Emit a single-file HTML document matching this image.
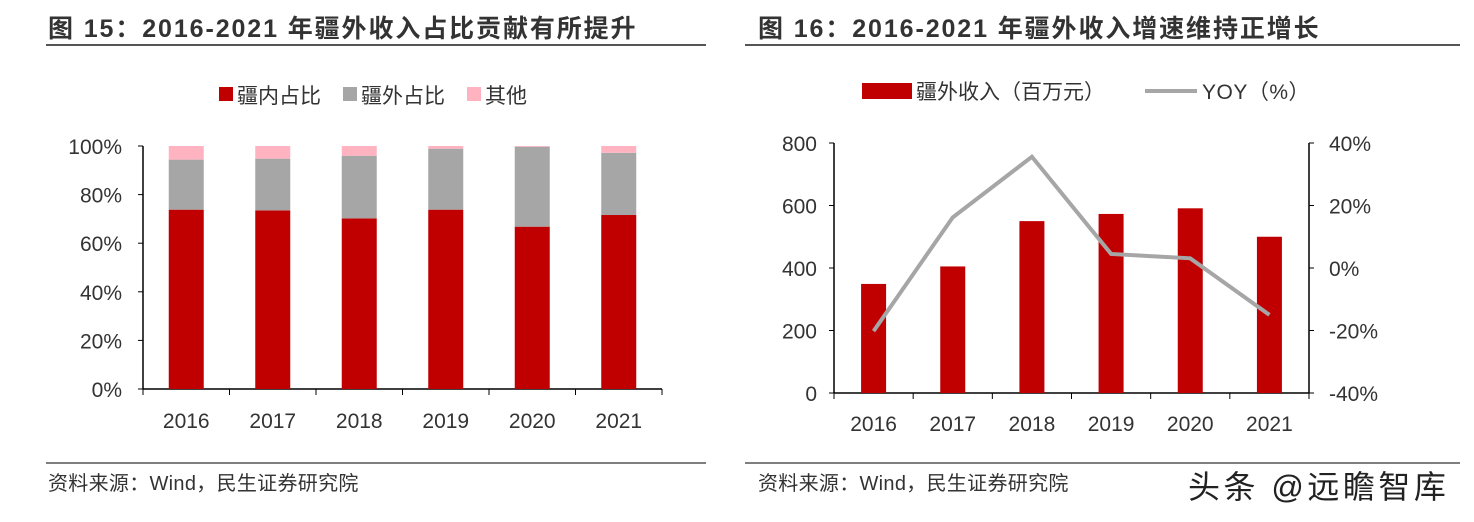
<!DOCTYPE html>
<html><head><meta charset="utf-8"><style>
body{margin:0;width:1474px;height:517px;background:#fff;overflow:hidden;font-family:"Liberation Sans","Noto Sans CJK SC",sans-serif;}
svg text{font-family:"Liberation Sans","Noto Sans CJK SC",sans-serif;}
</style></head><body>
<svg width="1474" height="517" id="svg">
<text x="48" y="37" font-size="25" font-weight="bold" fill="#333" letter-spacing="1.9">图 15：2016-2021 年疆外收入占比贡献有所提升</text>
<line x1="46" y1="45" x2="706" y2="45" stroke="#555" stroke-width="2"/>
<text x="758" y="37" font-size="25" font-weight="bold" fill="#333" letter-spacing="1.9">图 16：2016-2021 年疆外收入增速维持正增长</text>
<line x1="745" y1="45" x2="1460" y2="45" stroke="#555" stroke-width="2"/>
<line x1="46" y1="463" x2="706" y2="463" stroke="#555" stroke-width="1.5"/>
<line x1="745" y1="463" x2="1460" y2="463" stroke="#555" stroke-width="1.5"/>
<text x="48" y="490" font-size="20" fill="#333" letter-spacing="0.3">资料来源：Wind，民生证券研究院</text>
<text x="758" y="490" font-size="20" fill="#333" letter-spacing="0.3">资料来源：Wind，民生证券研究院</text>
<text x="1188" y="498" font-size="32" fill="#222" letter-spacing="3.5">头条 @远瞻智库</text>
<!-- left legend -->
<rect x="219" y="87" width="14" height="14" fill="#c00000"/>
<text x="237" y="103" font-size="21" fill="#333">疆内占比</text>
<rect x="343" y="87" width="14" height="14" fill="#a6a6a6"/>
<text x="361" y="103" font-size="21" fill="#333">疆外占比</text>
<rect x="467" y="87" width="14" height="14" fill="#ffb3c1"/>
<text x="485" y="103" font-size="21" fill="#333">其他</text>
<!-- right legend -->
<rect x="862" y="83" width="50" height="16" fill="#c00000"/>
<text x="916" y="99" font-size="21" fill="#333">疆外收入（百万元）</text>
<line x1="1145" y1="91" x2="1197" y2="91" stroke="#a6a6a6" stroke-width="4"/>
<text x="1202" y="99" font-size="21" fill="#333" letter-spacing="0.5">YOY（%）</text>
<g id="left"></g><g id="right"></g>
</svg>
<script>
const years=["2016","2017","2018","2019","2020","2021"];
const domestic=[73.8,73.5,70.2,73.8,66.8,71.6];
const outside=[20.6,21.3,25.8,25.1,32.9,25.6];
const other=[5.6,5.2,4.0,1.1,0.3,2.8];
const leftTicks=["0%","20%","40%","60%","80%","100%"];
const revenue=[349,405,550,573,591,500];
const yoy=[-20.2,16.2,35.6,4.5,3.1,-15];
const revTicks=["0","200","400","600","800"];
const yoyTicks=["-40%","-20%","0%","20%","40%"];
const NS="http://www.w3.org/2000/svg";
function mk(p,t,a,n){const e=document.createElementNS(NS,t);for(const k in a)e.setAttribute(k,a[k]);


p.appendChild(e);return e;}
// left
const L=document.getElementById('left');
const lx0=143,lx1=662,ly0=389,ly1=146;
const ly=v=>ly0-(v/100)*(ly0-ly1);
const lstep=(lx1-lx0)/years.length;
const lcx=i=>lx0+lstep*(i+0.5);
mk(L,'line',{x1:lx0,y1:ly1,x2:lx0,y2:ly0,stroke:'#000','stroke-width':1.5},'left-y-axis');
mk(L,'line',{x1:lx0,y1:ly0,x2:lx1,y2:ly0,stroke:'#000','stroke-width':1.5},'left-x-axis');
leftTicks.forEach((t,i)=>{const y=ly(i*20);
mk(L,'line',{x1:lx0-5,y1:y,x2:lx0,y2:y,stroke:'#000'},'left-y-tick');
const tx=mk(L,'text',{x:lx0-21,y:y+8,'font-size':21,'text-anchor':'end',fill:'#333'},'left-y-tick-label');tx.textContent=t;});
for(let i=0;i<=years.length;i++){const x=lx0+lstep*i;mk(L,'line',{x1:x,y1:ly0,x2:x,y2:ly0+6,stroke:'#000'},'left-x-tick');}
years.forEach((yr,i)=>{const c=lcx(i),w=35;
const a=domestic[i],b=a+outside[i],d=b+other[i];
mk(L,'rect',{x:c-w/2,y:ly(a),width:w,height:ly0-ly(a),fill:'#c00000'},'bar-domestic-'+yr);
mk(L,'rect',{x:c-w/2,y:ly(b),width:w,height:ly(a)-ly(b),fill:'#a6a6a6'},'bar-outside-'+yr);
mk(L,'rect',{x:c-w/2,y:ly(d),width:w,height:ly(b)-ly(d),fill:'#ffb3c1'},'bar-other-'+yr);
const tx=mk(L,'text',{x:c,y:428,'font-size':21,'text-anchor':'middle',fill:'#333'},'left-x-tick-label');tx.textContent=yr;});
// right
const R=document.getElementById('right');
const rx0=834,rx1=1309,ry0=393,ry1=143;
const ry=v=>ry0-(v/800)*(ry0-ry1);
const yy=v=>ry0-((v+40)/80)*(ry0-ry1);
const rstep=(rx1-rx0)/years.length;
const rcx=i=>rx0+rstep*(i+0.5);
mk(R,'line',{x1:rx0,y1:ry1,x2:rx0,y2:ry0,stroke:'#000','stroke-width':1.5},'right-left-y-axis');
mk(R,'line',{x1:rx1,y1:ry1,x2:rx1,y2:ry0,stroke:'#000','stroke-width':1.5},'right-right-y-axis');
mk(R,'line',{x1:rx0,y1:ry0,x2:rx1,y2:ry0,stroke:'#000','stroke-width':1.5},'right-x-axis');
revTicks.forEach((t,i)=>{const y=ry(i*200);
mk(R,'line',{x1:rx0-5,y1:y,x2:rx0,y2:y,stroke:'#000'},'revenue-tick');
const tx=mk(R,'text',{x:rx0-17,y:y+8,'font-size':21,'text-anchor':'end',fill:'#333'},'revenue-tick-label');tx.textContent=t;});
yoyTicks.forEach((t,i)=>{const y=yy(-40+i*20);
mk(R,'line',{x1:rx1,y1:y,x2:rx1+5,y2:y,stroke:'#000'},'yoy-tick');
const tx=mk(R,'text',{x:rx1+20,y:y+8,'font-size':21,fill:'#333'},'yoy-tick-label');tx.textContent=t;});
for(let i=0;i<=years.length;i++){const x=rx0+rstep*i;mk(R,'line',{x1:x,y1:ry0,x2:x,y2:ry0+6,stroke:'#000'},'right-x-tick');}
years.forEach((yr,i)=>{const c=rcx(i),w=25;
mk(R,'rect',{x:c-w/2,y:ry(revenue[i]),width:w,height:ry0-ry(revenue[i]),fill:'#c00000'},'bar-revenue-'+yr);
const tx=mk(R,'text',{x:c,y:431,'font-size':21,'text-anchor':'middle',fill:'#333'},'right-x-tick-label');tx.textContent=yr;});
mk(R,'polyline',{points:yoy.map((v,i)=>rcx(i)+','+yy(v)).join(' '),fill:'none',stroke:'#a6a6a6','stroke-width':4},'yoy-line');
</script>
</body></html>
